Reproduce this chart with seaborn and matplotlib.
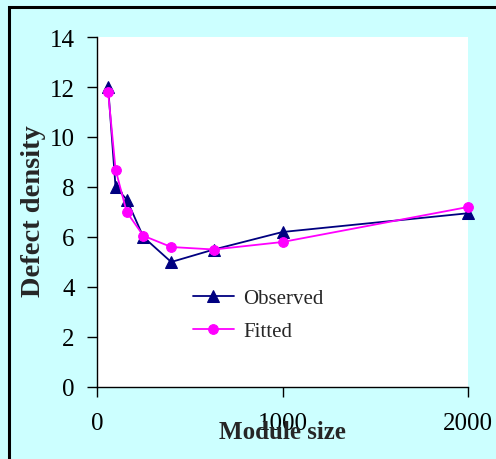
import pandas as pd
import numpy as np
import matplotlib
matplotlib.use("Agg")
import matplotlib.pyplot as plt
import seaborn as sns

module_size = [60, 100, 160, 250, 400, 630, 1000, 2000]
observed = [12.0, 8.0, 7.5, 6.0, 5.0, 5.5, 6.2, 6.95]
fitted = [11.8, 8.7, 7.0, 6.05, 5.6, 5.5, 5.8, 7.2]

x_ticks = [0, 1000, 2000]
y_ticks = [0, 2, 4, 6, 8, 10, 12, 14]

BG = "#CCFFFF"

sns.set_style("ticks")
plt.rcParams["font.family"] = ["Liberation Serif", "DejaVu Serif"]

df_obs = pd.DataFrame({"size": module_size, "density": observed})
df_fit = pd.DataFrame({"size": module_size, "density": fitted})

fig = plt.figure(figsize=(4.96, 4.6), dpi=100, facecolor=BG)
ax = fig.add_axes([97/496, 1-388/460, (468-97)/496, (388-38)/460])
ax.set_facecolor("white")

sns.lineplot(data=df_obs, x="size", y="density", ax=ax, color="#000080",
             marker="^", markersize=8.5, markeredgecolor="#000080", linewidth=1.3,
             label="Observed", clip_on=False)
sns.lineplot(data=df_fit, x="size", y="density", ax=ax, color="#FF00FF",
             marker="o", markersize=7, markeredgecolor="#FF00FF", linewidth=1.3,
             label="Fitted", clip_on=False)

ax.set_xlim(0, 2000)
ax.set_ylim(0, 14)
ax.set_xticks(x_ticks)
ax.set_yticks(y_ticks)
sns.despine(ax=ax)
for s in ["left", "bottom"]:
    ax.spines[s].set_linewidth(1.0)
    ax.spines[s].set_color("black")
ax.tick_params(axis="both", direction="out", length=7, width=1, colors="black", labelsize=18)
ax.tick_params(axis="x", pad=11)
ax.tick_params(axis="y", pad=9)

# label overlaps the 1000 tick label, as in the original
ax.set_xlabel("Module size", fontsize=18, fontweight="bold")
ax.set_ylabel("Defect density", fontsize=20.5, fontweight="bold")
ax.xaxis.set_label_coords(0.5, -0.095)
ax.yaxis.set_label_coords(-0.138, 0.504)

ax.legend(loc="upper left", bbox_to_anchor=(0.235, 0.306), frameon=False,
          fontsize=15, handlelength=2.0, handletextpad=0.45, labelspacing=0.65,
          borderaxespad=0)

fig.patches.append(plt.Rectangle((9/496, -0.1), 1.2, 1 - 8/460 + 0.1, transform=fig.transFigure,
                                 fill=False, edgecolor="black", linewidth=2.2))

fig.savefig("out.png", dpi=100, facecolor=BG)
